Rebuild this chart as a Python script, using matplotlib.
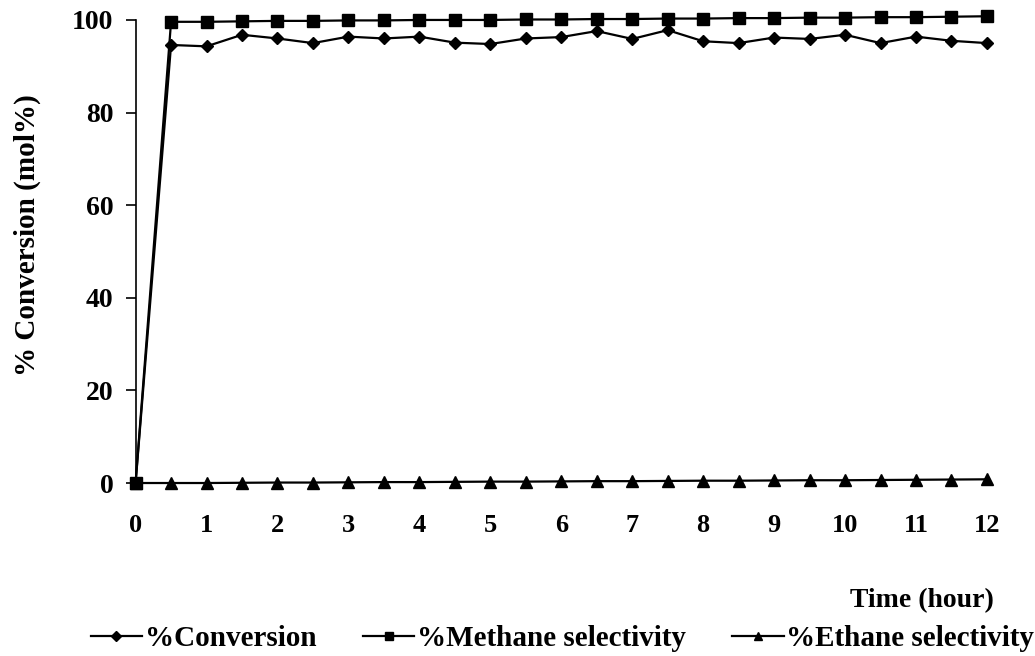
import matplotlib
matplotlib.use("Agg")
import matplotlib.pyplot as plt
from matplotlib.lines import Line2D

# Reaction time (hours) and measured percentages
time_h = [0, 0.5, 1, 1.5, 2, 2.5, 3, 3.5, 4, 4.5, 5, 5.5, 6, 6.5, 7, 7.5,
          8, 8.5, 9, 9.5, 10, 10.5, 11, 11.5, 12]
conversion = [0, 94.6, 94.3, 96.8, 96.0, 95.0, 96.4, 96.0, 96.4, 95.1, 94.8,
              96.0, 96.3, 97.6, 95.9, 97.8, 95.4, 95.0, 96.2, 95.9, 96.8,
              95.0, 96.4, 95.5, 95.0]
methane_sel = [0, 99.6, 99.6, 99.7, 99.8, 99.8, 99.9, 99.9, 100.0, 100.0,
               100.0, 100.1, 100.1, 100.2, 100.2, 100.3, 100.3, 100.4, 100.4,
               100.5, 100.5, 100.6, 100.6, 100.7, 100.8]
ethane_sel = [0, 0.0, 0.0, 0.05, 0.1, 0.1, 0.15, 0.2, 0.2, 0.25, 0.3, 0.3,
              0.35, 0.4, 0.4, 0.45, 0.5, 0.5, 0.55, 0.6, 0.6, 0.65, 0.7, 0.75,
              0.8]

x_ticks = list(range(0, 13))
y_ticks = [0, 20, 40, 60, 80, 100]
series_labels = ["%Conversion", "%Methane selectivity", "%Ethane selectivity"]

plt.rcParams["font.family"] = ["Liberation Serif", "DejaVu Serif"]

fig = plt.figure(figsize=(10.35, 6.56), dpi=100)
ax = fig.add_axes([0.131, 0.2637, 0.826, 0.72])

lw = 1.6
ax.plot(time_h, conversion, color="black", lw=lw, marker="D", markersize=6.5,
        clip_on=False, zorder=3)
ax.plot(time_h, methane_sel, color="black", lw=lw, marker="s", markersize=9,
        clip_on=False, zorder=3)
ax.plot(time_h, ethane_sel, color="black", lw=lw, marker="^", markersize=8,
        clip_on=False, zorder=3)

ax.set_xlim(0, 12.05)
ax.set_ylim(0, 102)
ax.spines["top"].set_visible(False)
ax.spines["right"].set_visible(False)
ax.spines["bottom"].set_visible(False)
ax.spines["left"].set_bounds(0, 100)
ax.spines["left"].set_linewidth(1.2)

ax.set_xticks(x_ticks)
ax.set_yticks(y_ticks)
ax.tick_params(axis="x", length=0, pad=22, labelsize=19)
ax.tick_params(axis="y", length=7, width=1.2, pad=9, labelsize=20)
for lbl in ax.get_xticklabels() + ax.get_yticklabels():
    lbl.set_fontweight("bold")

# y-axis title
fig.text(0.026, 0.642, "% Conversion (mol%)", fontsize=21, fontweight="bold",
         rotation=90, ha="center", va="center")

# x-axis title, below the tick labels at the right end of the axis
fig.text(0.96, 0.085, "Time (hour)", fontsize=20, fontweight="bold",
         ha="right", va="center")

handles = [
    Line2D([], [], color="black", lw=lw, marker="D", markersize=5),
    Line2D([], [], color="black", lw=lw, marker="s", markersize=6),
    Line2D([], [], color="black", lw=lw, marker="^", markersize=6),
]
fig.legend(handles, series_labels, loc="center",
           bbox_to_anchor=(0.5435, 0.026), ncol=3, frameon=False,
           prop={"size": 21, "weight": "bold"}, handlelength=1.75,
           handletextpad=0.1, columnspacing=1.6, borderpad=0,
           borderaxespad=0)

fig.savefig("out.png", dpi=100)
